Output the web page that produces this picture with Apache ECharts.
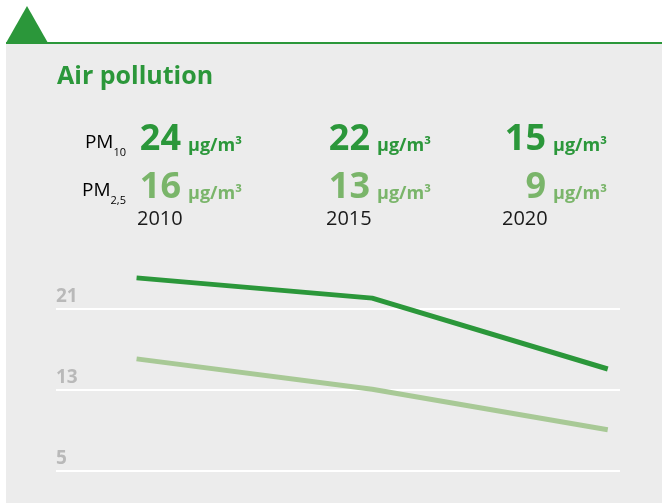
<!DOCTYPE html>
<html>
<head>
<meta charset="utf-8">
<script src="https://cdn.jsdelivr.net/npm/echarts@6/dist/echarts.min.js"></script>
<style>
  html, body { margin: 0; padding: 0; background: #ffffff; }
  #chart { width: 662px; height: 503px; }
</style>
</head>
<body>
<div id="chart"></div>
<script>
// data
const title = 'Air pollution'
const years = ['2010', '2015', '2020']
const yearValues = [2010, 2015, 2020]
const pm10 = [24, 22, 15]
const pm25 = [16, 13, 9]
const gridValues = [5, 13, 21]
const unit = 'μg/m³'
const pmLabels = [['PM', '10'], ['PM', '2,5']]

// colours
const DARK = '#2b973a'
const LIGHT_TXT = '#7ab56a'
const LIGHT_LINE = '#a8c996'
const BG = '#ececec'
const FONT = 'Open Sans'

// layout of the number table
const numRight = [181, 370, 546]
const rowNumY = [140, 188]
const rowUnitY = [146, 194]
const rowPmY = [143, 191]
const yearY = 219

const chart = echarts.init(document.getElementById('chart'), null, {renderer: 'canvas'})

const graphics = [
  /** grey panel + top rule + triangle */
  {type: 'rect', shape: {x: 6, y: 44, width: 656, height: 459}, style: {fill: BG}, z: -10},
  {type: 'rect', shape: {x: 6, y: 42, width: 656, height: 2}, style: {fill: DARK}, z: -9},
  {type: 'polygon', shape: {points: [[6, 43], [27, 6], [48, 43]]}, style: {fill: DARK}, z: -9},
  {
    type: 'text', x: 57, y: 77,
    style: {text: title, fill: DARK, font: 'bold 25px "' + FONT + '"', textVerticalAlign: 'middle'},
  },
]

// PM labels with subscript
pmLabels.forEach((lab, r) => {
  graphics.push({
    type: 'text', x: 126, y: rowPmY[r],
    style: {
      text: '{pm|' + lab[0] + '}{sub|' + lab[1] + '}',
      align: 'right', verticalAlign: 'middle',
      rich: {
        pm: {fontFamily: FONT, fontSize: 19, color: '#1a1a1a', lineHeight: 31},
        sub: {fontFamily: FONT, fontSize: 11, color: '#1a1a1a', lineHeight: 11, verticalAlign: 'bottom'},
      },
    },
  })
})

// values + units + years
;[pm10, pm25].forEach((vals, r) => {
  const col = r === 0 ? DARK : LIGHT_TXT
  vals.forEach((v, i) => {
    graphics.push({
      type: 'text', x: numRight[i], y: rowNumY[r],
      style: {text: String(v), fill: col, font: 'bold 36px "' + FONT + '"', textAlign: 'right', textVerticalAlign: 'middle'},
    })
    graphics.push({
      type: 'text', x: numRight[i] + 7, y: rowUnitY[r],
      style: {text: unit, fill: col, font: 'bold 18px "' + FONT + '"', textAlign: 'left', textVerticalAlign: 'middle'},
    })
  })
})
years.forEach((y, i) => {
  graphics.push({
    type: 'text', x: numRight[i] - 44, y: yearY,
    style: {text: y, fill: '#1a1a1a', font: '20px "' + FONT + '"', textAlign: 'left', textVerticalAlign: 'middle'},
  })
})

const option = {
  backgroundColor: '#ffffff',
  animation: false,
  graphic: {elements: graphics},
  grid: {left: 56, right: 42, top: 247.5, height: 243},
  xAxis: {
    type: 'value', min: 2008.29, max: 2020.26,
    show: false, splitLine: {show: false},
  },
  yAxis: {
    type: 'value', min: 3, max: 27,
    show: false, splitLine: {show: false},
  },
  series: [
    {
      name: 'PM2,5', type: 'line', symbol: 'none',
      data: yearValues.map((x, i) => [x, pm25[i]]),
      lineStyle: {color: LIGHT_LINE, width: 5},
      z: 3,
      markLine: {
        silent: true, symbol: ['none', 'none'],
        lineStyle: {color: '#ffffff', width: 2, type: 'solid'},
        label: {
          position: 'insideStartTop', formatter: '{c}', distance: [0, 2],
          color: '#b9b9b9', fontFamily: FONT, fontWeight: 'bold', fontSize: 19,
        },
        data: gridValues.map(v => ({yAxis: v})),
        z: 1,
      },
    },
    {
      name: 'PM10', type: 'line', symbol: 'none',
      data: yearValues.map((x, i) => [x, pm10[i]]),
      lineStyle: {color: DARK, width: 5},
      z: 4,
    },
  ],
}

chart.setOption(option)
</script>
</body>
</html>
